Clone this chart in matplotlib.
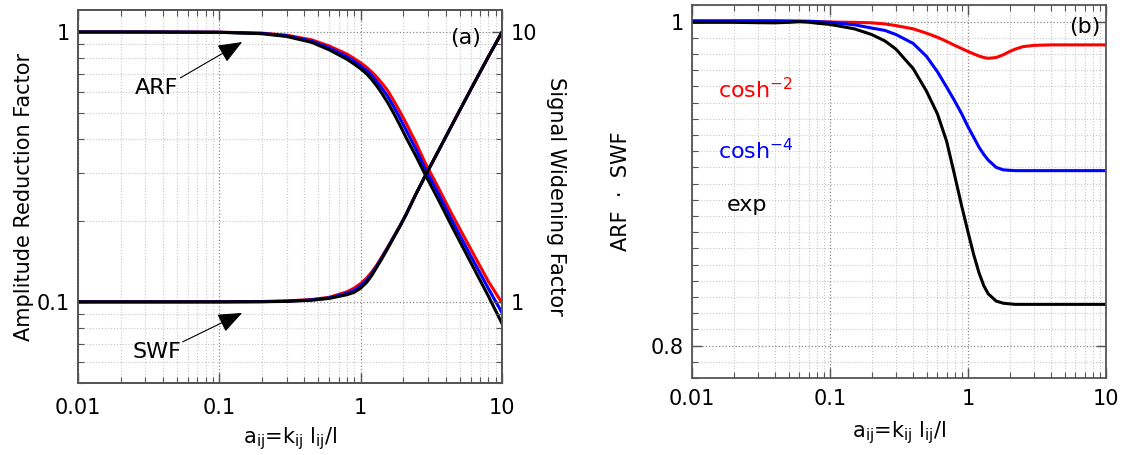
import matplotlib
matplotlib.use("Agg")
import matplotlib.pyplot as plt
from matplotlib.ticker import FixedLocator, LogLocator, NullFormatter, MultipleLocator

plt.rcParams['font.family'] = ['DejaVu Sans']
plt.rcParams['mathtext.fontset'] = 'dejavusans'

# ---------------- data ----------------
# panel (a): amplitude reduction factor (left axis) / signal widening factor (right axis)
x_a = [0.01, 0.03, 0.1, 0.2, 0.3, 0.45, 0.6, 0.8, 0.9, 1.0, 1.1, 1.2, 1.3, 1.4,
       1.55, 1.7, 1.9, 2.1, 2.45, 2.85, 3.5, 4.4, 6.0, 8.0, 10.0]
arf_cosh2 = [1.0, 1.0, 0.998, 0.99, 0.973, 0.935, 0.887, 0.828, 0.797, 0.768, 0.74, 0.71,
             0.68, 0.65, 0.607, 0.56, 0.505, 0.458, 0.39, 0.328, 0.268, 0.212, 0.157,
             0.119, 0.099]
arf_cosh4 = [1.0, 1.0, 0.9975, 0.988, 0.968, 0.925, 0.873, 0.81, 0.778, 0.749, 0.72, 0.688,
             0.655, 0.623, 0.578, 0.532, 0.478, 0.432, 0.369, 0.312, 0.255, 0.201, 0.148,
             0.112, 0.091]
arf_exp = [1.0, 0.9995, 0.997, 0.985, 0.962, 0.915, 0.858, 0.792, 0.76, 0.73, 0.70, 0.665,
           0.63, 0.596, 0.548, 0.503, 0.45, 0.405, 0.348, 0.297, 0.242, 0.191, 0.14,
           0.105, 0.083]
swf_cosh2 = [1.0, 1.0, 1.001, 1.003, 1.008, 1.02, 1.04, 1.09, 1.125, 1.17, 1.225, 1.292,
             1.37, 1.46, 1.595, 1.735, 1.92, 2.12, 2.5, 2.92, 3.58, 4.5, 6.12, 8.1, 10.0]
swf_cosh4 = [1.0, 1.0, 1.0, 1.002, 1.006, 1.017, 1.035, 1.076, 1.105, 1.147, 1.202, 1.273,
             1.357, 1.448, 1.585, 1.728, 1.915, 2.115, 2.5, 2.92, 3.58, 4.5, 6.12, 8.1, 10.0]
swf_exp = [1.0, 1.0, 1.0, 1.001, 1.004, 1.014, 1.03, 1.063, 1.085, 1.125, 1.18, 1.255,
           1.345, 1.435, 1.575, 1.72, 1.91, 2.11, 2.5, 2.92, 3.58, 4.5, 6.12, 8.1, 10.0]

# panel (b): product ARF * SWF
x_b = [0.01, 0.02, 0.03, 0.04, 0.05, 0.06, 0.07, 0.08, 0.1, 0.15, 0.2, 0.25, 0.3, 0.4,
       0.5, 0.6, 0.7, 0.8, 0.9, 1.0, 1.1, 1.2, 1.3, 1.4, 1.6, 1.8, 2.0, 2.2, 2.5, 3.0,
       4.0, 6.0, 10.0]
prod_cosh2 = [1.0, 1.0, 1.0, 1.0, 1.0, 1.0, 0.9999, 0.9998, 0.9997, 0.9995, 0.9992, 0.9985,
              0.9975, 0.9955, 0.9928, 0.9903, 0.9877, 0.9853, 0.9833, 0.9815, 0.980, 0.9787,
              0.9778, 0.9773, 0.9778, 0.9795, 0.9815, 0.983, 0.9845, 0.9853, 0.9856, 0.9856,
              0.9856]
prod_cosh4 = [1.0005, 1.0005, 1.0005, 1.0005, 1.0004, 1.0003, 1.0002, 1.0, 0.9995, 0.998,
              0.996, 0.9945, 0.992, 0.9865, 0.9785, 0.969, 0.9595, 0.951, 0.943, 0.935,
              0.9285, 0.9225, 0.918, 0.9145, 0.910, 0.9085, 0.9082, 0.908, 0.908, 0.908,
              0.908, 0.908, 0.908]
prod_exp = [0.9995, 0.9995, 0.9993, 0.9992, 0.9995, 0.9999, 0.9996, 0.999, 0.9982, 0.9955,
            0.992, 0.988, 0.983, 0.971, 0.957, 0.943, 0.926, 0.905, 0.886, 0.870, 0.856,
            0.845, 0.837, 0.832, 0.8275, 0.8262, 0.8258, 0.8255, 0.8255, 0.8255, 0.8255,
            0.8255, 0.8255]

x_ticks = [0.01, 0.1, 1, 10]
x_ticklabels = ["0.01", "0.1", "1", "10"]
xlabel = r"a$_{\rm ij}$=k$_{\rm ij}$ l$_{\rm ij}$/l"

COLORS = {'cosh2': '#ff0000', 'cosh4': '#0000ff', 'exp': '#000000'}
SPINE = '#555555'
FS = 15


def style_axes(ax):
    for s in ax.spines.values():
        s.set_color(SPINE)
        s.set_linewidth(1.3)
    ax.tick_params(which='both', direction='in', colors=SPINE, labelcolor='black',
                   labelsize=FS, top=True)
    ax.tick_params(which='major', length=7, width=1.0)
    ax.tick_params(which='minor', length=4, width=0.8)
    ax.tick_params(axis='x', which='major', pad=11)
    ax.tick_params(axis='y', which='major', pad=6)


def log_x(ax, labelpad):
    ax.set_xscale('log')
    ax.set_xlim(0.01, 10)
    ax.xaxis.set_major_locator(FixedLocator(x_ticks))
    ax.set_xticklabels(x_ticklabels)
    ax.xaxis.set_minor_locator(LogLocator(base=10, subs=range(2, 10)))
    ax.xaxis.set_minor_formatter(NullFormatter())
    ax.set_xlabel(xlabel, fontsize=FS, labelpad=labelpad)


fig = plt.figure(figsize=(11.22, 4.55), dpi=100)

# ---------------- panel (a) ----------------
ax = fig.add_axes([0.0695, 0.158, 0.378, 0.820])
ax.set_yscale('log')
log_x(ax, 5)
ax.set_ylim(0.05, 1.206)
ax.yaxis.set_major_locator(FixedLocator([0.1, 1]))
ax.set_yticklabels(["0.1", "1"])
ax.yaxis.set_minor_locator(LogLocator(base=10, subs=range(2, 10)))
ax.yaxis.set_minor_formatter(NullFormatter())
ax.grid(which='major', ls=':', color='#888888', lw=0.9)
ax.grid(which='minor', ls=':', color='#c8c8c8', lw=0.8)
ax.set_axisbelow(True)
style_axes(ax)
ax.tick_params(right=False)
ax.set_ylabel("Amplitude Reduction Factor", fontsize=FS, labelpad=2)

ax.plot(x_a, arf_cosh2, color=COLORS['cosh2'], lw=2.2)
ax.plot(x_a, arf_cosh4, color=COLORS['cosh4'], lw=2.2)
ax.plot(x_a, arf_exp, color=COLORS['exp'], lw=2.2)

ax2 = ax.twinx()
ax2.set_yscale('log')
ax2.set_ylim(0.5, 12.06)
ax2.yaxis.set_major_locator(FixedLocator([1, 10]))
ax2.set_yticklabels(["1", "10"])
ax2.yaxis.set_minor_locator(LogLocator(base=10, subs=range(2, 10)))
ax2.yaxis.set_minor_formatter(NullFormatter())
style_axes(ax2)
ax2.set_ylabel("Signal Widening Factor", fontsize=FS, rotation=270, labelpad=21)
ax2.plot(x_a, swf_cosh2, color=COLORS['cosh2'], lw=2.2)
ax2.plot(x_a, swf_cosh4, color=COLORS['cosh4'], lw=2.2)
ax2.plot(x_a, swf_exp, color=COLORS['exp'], lw=2.2)

arrow = dict(arrowstyle='-|>,head_length=1.0,head_width=0.4', color='k', lw=0.8,
             shrinkA=0, shrinkB=0, mutation_scale=15)
ax.annotate("", xy=(0.145, 0.918), xytext=(0.053, 0.676), arrowprops=arrow)
ax.text(0.036, 0.62, "ARF", fontsize=16, ha='center', va='center')
ax.annotate("", xy=(0.145, 0.091), xytext=(0.055, 0.0711), arrowprops=arrow)
ax.text(0.036, 0.0653, "SWF", fontsize=16, ha='center', va='center')
ax.text(0.915, 0.925, "(a)", transform=ax.transAxes, fontsize=16, ha='center', va='center')

# ---------------- panel (b) ----------------
bx = fig.add_axes([0.6168, 0.169, 0.369, 0.820])
log_x(bx, 7)
bx.set_ylim(0.78, 1.0102)
bx.yaxis.set_major_locator(FixedLocator([0.8, 1.0]))
bx.set_yticklabels(["0.8", "1"])
bx.yaxis.set_minor_locator(MultipleLocator(0.01))
bx.grid(which='major', ls=':', color='#888888', lw=0.9)
bx.grid(which='minor', ls=':', color='#c8c8c8', lw=0.8)
bx.set_axisbelow(True)
style_axes(bx)
bx.tick_params(right=True)
bx.tick_params(axis='x', which='major', pad=8)
bx.set_ylabel("ARF  \u00b7  SWF", fontsize=FS, labelpad=14)

bx.plot(x_b, prod_cosh2, color=COLORS['cosh2'], lw=2.2)
bx.plot(x_b, prod_cosh4, color=COLORS['cosh4'], lw=2.2)
bx.plot(x_b, prod_exp, color=COLORS['exp'], lw=2.2)

bx.text(0.063, 0.772, r"cosh$^{\mathregular{-2}}$", transform=bx.transAxes, fontsize=16,
        color=COLORS['cosh2'], va='center')
bx.text(0.063, 0.611, r"cosh$^{\mathregular{-4}}$", transform=bx.transAxes, fontsize=16,
        color=COLORS['cosh4'], va='center')
bx.text(0.085, 0.464, "exp", transform=bx.transAxes, fontsize=16, color='k', va='center')
bx.text(0.949, 0.94, "(b)", transform=bx.transAxes, fontsize=16, ha='center', va='center')

fig.savefig("out.png", dpi=100)
